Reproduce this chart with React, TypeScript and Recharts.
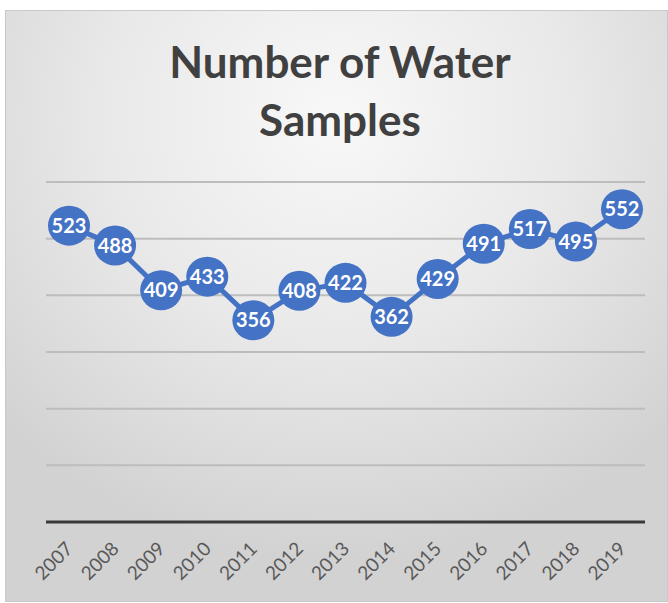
import { LineChart, Line, XAxis, YAxis, CartesianGrid, LabelList } from 'recharts';

const years = ['2007', '2008', '2009', '2010', '2011', '2012', '2013', '2014', '2015', '2016', '2017', '2018', '2019'];
const samples = [523, 488, 409, 433, 356, 408, 422, 362, 429, 491, 517, 495, 552];
const yTicks = [0, 100, 200, 300, 400, 500, 600];

const data = years.map((year, i) => ({ year, samples: samples[i] }));

const BLUE = '#4472C4';

function YearTick({ x, y, payload }: any) {
  return (
    <text
      x={x + 5}
      y={y + 20}
      transform={`rotate(-45, ${x + 5}, ${y + 20})`}
      textAnchor="end"
      fontFamily="Lato"
      fontSize={19}
      fill="#595959"
    >
      {payload.value}
    </text>
  );
}

function Marker({ cx, cy }: any) {
  return <ellipse cx={cx} cy={cy} rx={21} ry={20} fill={BLUE} />;
}

export default function App() {
  return (
    <div style={{ position: 'absolute', left: 0, top: 0, width: 668, height: 603, background: '#fff' }}>
      <div
        style={{
          position: 'absolute',
          left: 5,
          top: 10,
          width: 663,
          height: 592,
          boxSizing: 'border-box',
          border: '1px solid #c9c9c9',
          background: 'radial-gradient(ellipse 70% 75% at 50% 18%, #f8f8f8 0%, #e9e9e9 50%, #d2d2d2 100%)',
        }}
      />
      <div
        style={{
          position: 'absolute',
          left: 0,
          top: 32,
          width: 680,
          textAlign: 'center',
          fontFamily: 'Lato',
          fontWeight: 700,
          fontSize: 44,
          lineHeight: '58px',
          color: '#404040',
        }}
      >
        Number of Water
        <br />
        Samples
      </div>
      <div style={{ position: 'absolute', left: 0, top: 0 }}>
        <LineChart width={668} height={603} data={data} margin={{ top: 182, right: 23, bottom: 0, left: 46 }}>
          <CartesianGrid vertical={false} stroke="#bdbdbd" strokeWidth={2} />
          <XAxis
            dataKey="year"
            padding={{ left: 23, right: 23 }}
            axisLine={{ stroke: '#3a3a3a', strokeWidth: 3 }}
            tickLine={false}
            tick={<YearTick />}
            interval={0}
            height={81}
          />
          <YAxis hide domain={[0, 600]} ticks={yTicks} width={0} />
          <Line
            dataKey="samples"
            stroke={BLUE}
            strokeWidth={5}
            dot={<Marker />}
            isAnimationActive={false}
          >
            <LabelList
              dataKey="samples"
              position="center"
              fill="#ffffff"
              fontFamily="Lato"
              fontWeight={700}
              fontSize={20}
            />
          </Line>
        </LineChart>
      </div>
    </div>
  );
}
